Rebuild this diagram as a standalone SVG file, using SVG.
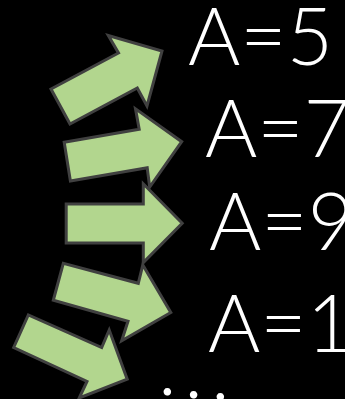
<svg xmlns="http://www.w3.org/2000/svg" width="345" height="399" viewBox="0 0 345 399">
<style>
.arrow{fill:#b2d68e;stroke:#404040;stroke-width:3;stroke-linejoin:miter}
.lbl{fill:#ffffff;font-family:Lato,"Liberation Sans",sans-serif;font-weight:300;font-size:80px}
</style>
<rect x="0" y="0" width="345" height="399" fill="#000000"/>
<g id="connectors">
<g id="arrow1"><polygon class="arrow" points="70,124 51,89 118.5,53 108.3,35.5 162,51 147,106 137.3,88"/></g>
<g id="arrow2"><polygon class="arrow" points="64.2,142.2 70.4,181 147.2,167.8 149.7,187 181.7,141.7 135.5,108.8 139.2,129.3"/></g>
<g id="arrow3"><polygon class="arrow" points="66.2,204 66.2,243 143.3,243 143.3,262.5 182.2,223.3 143.3,183.8 143.3,204"/></g>
<g id="arrow4"><polygon class="arrow" points="63.3,263.3 53.3,300.3 128,321.3 121.7,340.8 170.8,312.5 142.8,265 138.3,283.3"/></g>
<g id="arrow5"><polygon class="arrow" points="28.3,315 13.7,347.5 87,381.5 79.2,398 127.2,379.2 109.2,330 101.7,347.5"/></g>
</g>
<g id="label1"><text class="lbl" x="188" y="65" textLength="145" lengthAdjust="spacingAndGlyphs">A=5</text></g>
<g id="label2"><text class="lbl" x="205" y="157" textLength="145" lengthAdjust="spacingAndGlyphs">A=7</text></g>
<g id="label3"><text class="lbl" x="209" y="250" textLength="145" lengthAdjust="spacingAndGlyphs">A=9</text></g>
<g id="label4"><text class="lbl" x="208" y="352" textLength="145" lengthAdjust="spacingAndGlyphs">A=1</text></g>
<g id="label5"><text class="lbl" x="158 184.3 211" y="395 397.6 400">...</text></g>
</svg>
